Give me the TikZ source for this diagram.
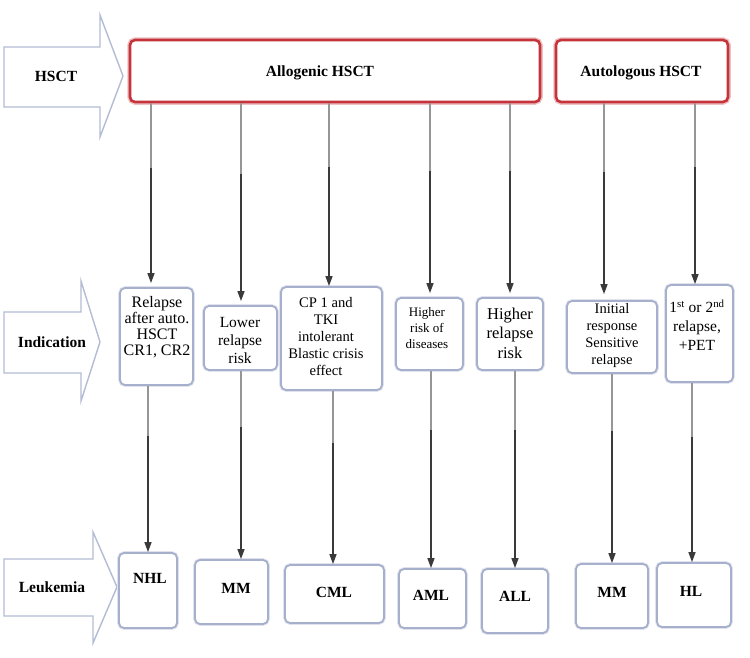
\documentclass[tikz,border=0pt]{standalone}
\usepackage{fontspec}
\setmainfont{Liberation Serif}
\usetikzlibrary{arrows.meta,calc}
\definecolor{redbox}{RGB}{196,52,58}
\definecolor{bluebox}{RGB}{166,176,204}
\definecolor{arrowc}{RGB}{58,58,58}
\definecolor{fadec}{RGB}{150,150,150}
\begin{document}
\begin{tikzpicture}[x=1pt,y=-1pt,
  redframe/.style={draw=redbox, line width=2.6pt, rounded corners=5pt, fill=white,
    preaction={draw=redbox!30, line width=5.5pt}, inner sep=0pt},
  bbox/.style={draw=bluebox, line width=1.8pt, rounded corners=5pt, fill=white,
    preaction={draw=bluebox!35, line width=3.6pt}, inner sep=0pt},
  blockarrow/.style={draw=bluebox!85!white, line width=1.4pt, fill=white, line join=miter},
  lbl/.style={font=\bfseries\fontsize{15.5}{18}\selectfont, inner sep=0pt},
  itxt/.style={align=center, inner sep=0pt},
  conn/.style={draw=arrowc, line width=1.4pt, -{Triangle[length=10pt,width=7pt]}},
  fadeseg/.style={draw=fadec, line width=1.5pt},
]
\useasboundingbox (0,0) rectangle (750,657);
\fill[white] (0,0) rectangle (750,657);

% block arrows on the left
\draw[blockarrow] (4,47) -- (100,47) -- (100,15) -- (123,76) -- (100,137) -- (100,107) -- (4,107) -- cycle;
\node[lbl] (hsct) at (56,76) {HSCT};
\draw[blockarrow] (4,312) -- (81,312) -- (81,281) -- (100,342) -- (81,401) -- (81,373) -- (4,373) -- cycle;
\node[lbl] (indication) at (52,342) {Indication};
\draw[blockarrow] (4,559) -- (93,559) -- (93,532) -- (117,587) -- (93,643) -- (93,616) -- (4,616) -- cycle;
\node[lbl] (leukemia) at (52,587) {Leukemia};

% top boxes
\node[redframe, minimum width=410, minimum height=62] (allo) at (335,71) {};
\node[lbl] (allotxt) at (320,73) {Allogenic HSCT};
\node[redframe, minimum width=172, minimum height=62] (auto) at (642,71) {};
\node[lbl] (autotxt) at (641,73) {Autologous HSCT};

% indication boxes
\node[bbox, minimum width=73, minimum height=97] (i1) at (156.5,336.5) {};
\node[bbox, minimum width=73, minimum height=64] (i2) at (240.5,338) {};
\node[bbox, minimum width=101, minimum height=103] (i3) at (331.5,338.5) {};
\node[bbox, minimum width=67, minimum height=72] (i4) at (429.5,334) {};
\node[bbox, minimum width=66, minimum height=72] (i5) at (510,334) {};
\node[bbox, minimum width=90, minimum height=72] (i6) at (612,337) {};
\node[bbox, minimum width=67, minimum height=97] (i7) at (699.5,333.5) {};

\node[itxt, font=\fontsize{16}{16}\selectfont] (i1t) at (157,327) {Relapse\\after auto.\\HSCT\\CR1, CR2};
\node[itxt, font=\fontsize{15.5}{18}\selectfont] (i2t) at (240,340) {Lower\\relapse\\risk};
\node[itxt, font=\fontsize{14.6}{17}\selectfont] (i3t) at (326,336) {CP 1 and\\TKI\\intolerant\\Blastic crisis\\effect};
\node[itxt, font=\fontsize{13}{16}\selectfont] (i4t) at (427,328) {Higher\\risk of\\diseases};
\node[itxt, font=\fontsize{16.5}{19.5}\selectfont] (i5t) at (510,333) {Higher\\relapse\\risk};
\node[itxt, font=\fontsize{14.5}{17}\selectfont] (i6t) at (612,336) {Initial\\response\\Sensitive\\relapse};
\node[itxt, font=\fontsize{15.5}{19}\selectfont] (i7t) at (697,325) {1\textsuperscript{st} or 2\textsuperscript{nd}\\relapse,\\+PET};

% leukemia boxes
\node[bbox, minimum width=58, minimum height=75] (l1) at (148,590.5) {};
\node[bbox, minimum width=73, minimum height=64] (l2) at (231.5,592) {};
\node[bbox, minimum width=99, minimum height=58] (l3) at (334.5,594) {};
\node[bbox, minimum width=67, minimum height=59] (l4) at (432.5,598.5) {};
\node[bbox, minimum width=66, minimum height=64] (l5) at (515,601) {};
\node[bbox, minimum width=72, minimum height=64] (l6) at (612,596) {};
\node[bbox, minimum width=74, minimum height=64] (l7) at (694,595) {};

\node[lbl] (l1t) at (150,578) {NHL};
\node[lbl] (l2t) at (236,588) {MM};
\node[lbl] (l3t) at (334,592) {CML};
\node[lbl] (l4t) at (431,595) {AML};
\node[lbl] (l5t) at (515,596) {ALL};
\node[lbl] (l6t) at (612,592) {MM};
\node[lbl] (l7t) at (691,591) {HL};

% connector x positions
\coordinate (t1) at (151,0);
\coordinate (t2) at (241,0);
\coordinate (t3) at (329,0);
\coordinate (t4) at (430,0);
\coordinate (t5) at (510,0);
\coordinate (t6) at (604,0);
\coordinate (t7) at (695,0);
\coordinate (b1) at (148,0);
\coordinate (b2) at (241,0);
\coordinate (b3) at (333,0);
\coordinate (b4) at (431,0);
\coordinate (b5) at (515,0);
\coordinate (b6) at (612,0);
\coordinate (b7) at (692,0);

\draw[conn, shorten >=4pt] (allo.south -| t1) -- (i1.north -| t1);
\draw[conn, shorten >=4pt] (allo.south -| t2) -- (i2.north -| t2);
\draw[conn] (allo.south -| t3) -- (i3.north -| t3);
\draw[conn, shorten >=4pt] (allo.south -| t4) -- (i4.north -| t4);
\draw[conn, shorten >=4pt] (allo.south -| t5) -- (i5.north -| t5);
\draw[conn, shorten >=6pt] (auto.south -| t6) -- (i6.north -| t6);
\draw[conn] (auto.south -| t7) -- (i7.north -| t7);

\draw[conn] (i1.south -| b1) -- (l1.north -| b1);
\draw[conn] (i2.south -| b2) -- (l2.north -| b2);
\draw[conn] (i3.south -| b3) -- (l3.north -| b3);
\draw[conn] (i4.south -| b4) -- (l4.north -| b4);
\draw[conn] (i5.south -| b5) -- (l5.north -| b5);
\draw[conn] (i6.south -| b6) -- (l6.north -| b6);
\draw[conn] (i7.south -| b7) -- (l7.north -| b7);

% lighter upper part of each connector (as in the reference)
\foreach \s/\e/\c in {allo/i1/t1, allo/i2/t2, allo/i3/t3, allo/i4/t4, allo/i5/t5, auto/i6/t6, auto/i7/t7}
  \draw[fadeseg] (\s.south -| \c) -- ($(\s.south -| \c)!0.35!(\e.north -| \c)$);
\foreach \s/\e/\c in {i1/l1/b1, i2/l2/b2, i3/l3/b3, i4/l4/b4, i5/l5/b5, i6/l6/b6, i7/l7/b7}
  \draw[fadeseg] (\s.south -| \c) -- ($(\s.south -| \c)!0.3!(\e.north -| \c)$);
\end{tikzpicture}
\end{document}
